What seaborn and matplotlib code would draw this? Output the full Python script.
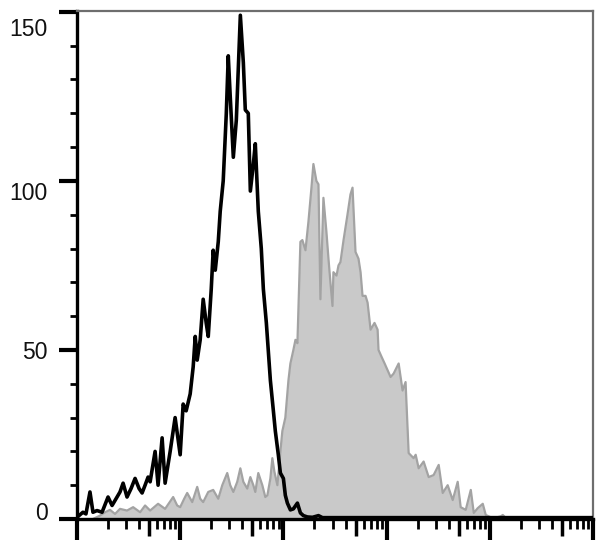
import matplotlib
matplotlib.use("Agg")
import matplotlib.pyplot as plt
import matplotlib.transforms as mtransforms
from matplotlib.ticker import FixedLocator, NullFormatter
import numpy as np
import pandas as pd
import seaborn as sns

# ---- data: log10 fluorescence position vs. event count ----
black_log10 = [0.000, 0.058, 0.087, 0.126, 0.155, 0.194, 0.243, 0.301, 0.340, 0.369,
               0.417, 0.447, 0.485, 0.524, 0.563, 0.602, 0.631, 0.660, 0.689, 0.709,
               0.757, 0.786, 0.825, 0.854, 0.903, 0.951, 1.000, 1.029, 1.058, 1.097,
               1.126, 1.146, 1.165, 1.194, 1.223, 1.252, 1.272, 1.301, 1.320, 1.340,
               1.369, 1.388, 1.417, 1.447, 1.466, 1.485, 1.515, 1.544, 1.583, 1.612,
               1.631, 1.660, 1.680, 1.709, 1.728, 1.757, 1.786, 1.806, 1.835, 1.874,
               1.903, 1.922, 1.951, 1.971, 2.000, 2.019, 2.039, 2.068, 2.097, 2.136,
               2.165, 2.194, 2.233, 2.282, 2.340, 2.379, 2.456, 3.136, 4.107, 5.000]
black_count = [0.5, 2, 1.5, 8, 2, 2.5, 2, 6.5, 4, 5.5,
               8, 10.6, 6.5, 9, 12, 9, 7.7, 10, 12.4, 11,
               20, 10, 24, 10.6, 20, 30, 19, 34, 32, 37,
               45, 54, 47, 53, 65, 58, 54, 68, 79.5, 73.6,
               82, 91, 100, 120, 137, 125, 107, 118, 149, 135,
               121, 120, 97, 105, 111, 91, 80, 68, 58, 41,
               32, 26, 19, 13.6, 12, 7, 4.7, 2.7, 3, 4.7,
               1.8, 1, 0.6, 0.5, 1, 0.4, 0.4, 0.4, 0.4, 0.4]

gray_log10 = [0.155, 0.223, 0.272, 0.320, 0.369, 0.417, 0.485, 0.544, 0.612, 0.660,
              0.709, 0.786, 0.854, 0.932, 0.971, 1.000, 1.039, 1.068, 1.117, 1.165,
              1.194, 1.223, 1.272, 1.320, 1.369, 1.408, 1.456, 1.485, 1.515, 1.553,
              1.583, 1.612, 1.650, 1.680, 1.709, 1.728, 1.757, 1.796, 1.825, 1.845,
              1.874, 1.893, 1.913, 1.942, 1.971, 1.990, 2.019, 2.049, 2.068, 2.097,
              2.117, 2.136, 2.165, 2.184, 2.214, 2.243, 2.272, 2.291, 2.320, 2.340,
              2.359, 2.388, 2.417, 2.437, 2.456, 2.476, 2.485, 2.515, 2.534, 2.553,
              2.583, 2.621, 2.650, 2.670, 2.699, 2.728, 2.748, 2.767, 2.796, 2.816,
              2.845, 2.883, 2.913, 2.922, 2.951, 2.981, 3.010, 3.039, 3.068, 3.117,
              3.155, 3.184, 3.214, 3.262, 3.282, 3.311, 3.359, 3.408, 3.456, 3.505,
              3.544, 3.592, 3.641, 3.689, 3.718, 3.767, 3.816, 3.845, 3.883, 3.932,
              3.961, 4.010, 4.058, 4.107, 4.126, 4.155, 4.204]
gray_count = [0, 1, 2, 2.7, 1.5, 3, 2.5, 3.5, 2, 4,
              2.5, 4.5, 3, 6.5, 4, 3.5, 6, 7.7, 5, 9.5,
              6, 5, 8, 8.6, 6, 10, 13.6, 10, 8, 11,
              15, 11, 9, 12.4, 10, 8, 13.6, 10, 6.5, 7,
              12, 18, 14, 10, 20, 26, 30, 41, 46, 50,
              53, 52, 82, 82.5, 79.5, 88, 98, 105, 100, 99,
              65, 95, 85, 77, 70, 63, 73, 72, 75, 76,
              82.5, 90, 96, 98, 79, 77, 73, 66, 66, 64,
              56, 58, 56, 50, 48, 46, 44, 42, 43, 46,
              38, 40.5, 19.5, 18, 19, 15, 17, 12.4, 13, 16,
              7.7, 10, 5.6, 11, 3.5, 2.7, 8.6, 1.8, 3.2, 4.5,
              1.2, 0.5, 0.4, 0.8, 1.2, 0.3, 0]

y_ticks = [0, 50, 100, 150]
y_labels = ["0", "50", "100", "150"]
# per-label vertical nudges in pixels (positive = up), as in the reference
y_label_shift_px = [8, 0, -10, -15]

# ---- style ----
sns.set_theme(style="white")
plt.rcParams["font.family"] = ["Liberation Sans", "DejaVu Sans"]

fig = plt.figure(figsize=(6.08, 5.45), dpi=100)
ax = fig.add_axes([0.1266, 0.0477, 0.8487, 0.9330])

black_df = pd.DataFrame({"x": np.power(10.0, black_log10), "y": black_count})
gray_df = pd.DataFrame({"x": np.power(10.0, gray_log10), "y": gray_count})

ax.fill_between(gray_df["x"], 0, gray_df["y"], color="#c9c9c9", linewidth=0, zorder=1)
sns.lineplot(data=gray_df, x="x", y="y", ax=ax, color="#a3a3a3", linewidth=1.6,
             sort=False, estimator=None, zorder=2)
sns.lineplot(data=black_df, x="x", y="y", ax=ax, color="black", linewidth=2.6,
             sort=False, estimator=None, zorder=3)

ax.set_xscale("log")
ax.set_xlim(1, 1e5)
ax.set_ylim(0, 150.4)
ax.set_xlabel("")
ax.set_ylabel("")

# spines
for side in ["left", "bottom"]:
    ax.spines[side].set_color("black")
    ax.spines[side].set_linewidth(2.4)
for side in ["top", "right"]:
    ax.spines[side].set_color("#6e6e6e")
    ax.spines[side].set_linewidth(1.6)

# y ticks
ax.yaxis.set_major_locator(FixedLocator(y_ticks))
ax.set_yticklabels(y_labels)
ax.yaxis.set_minor_locator(FixedLocator([v for v in range(0, 151, 10) if v % 50]))
ax.tick_params(axis="y", which="major", direction="out", length=13, width=3,
               color="black", labelsize=16.5, labelcolor="#111111", pad=8,
               left=True, right=False)
ax.tick_params(axis="y", which="minor", direction="out", length=5, width=2,
               color="black", left=True, right=False)
for lab, dy in zip(ax.get_yticklabels(), y_label_shift_px):
    lab.set_transform(lab.get_transform() +
                      mtransforms.ScaledTranslation(0, dy / 100.0, fig.dpi_scale_trans))

# x ticks: decades long, 2-4 & 6-9 short, 5 medium
decades = [1, 10, 100, 1000, 10000, 100000]
minor_short = [k * d for d in decades[:-1] for k in (2, 3, 4, 6, 7, 8, 9)]
fives = [5 * d for d in decades[:-1]]
ax.xaxis.set_major_locator(FixedLocator(decades))
ax.xaxis.set_minor_locator(FixedLocator(minor_short))
ax.xaxis.set_major_formatter(NullFormatter())
ax.xaxis.set_minor_formatter(NullFormatter())
ax.tick_params(axis="x", which="major", direction="out", length=15, width=3,
               color="black", bottom=True, top=False)
ax.tick_params(axis="x", which="minor", direction="out", length=7, width=2,
               color="black", bottom=True, top=False)

sec = ax.secondary_xaxis("bottom", functions=(lambda v: v, lambda v: v))
sec.set_xscale("log")
sec.xaxis.set_major_locator(FixedLocator(fives))
sec.xaxis.set_minor_locator(FixedLocator([]))
sec.xaxis.set_major_formatter(NullFormatter())
sec.spines["bottom"].set_visible(False)
sec.tick_params(axis="x", which="major", direction="out", length=12, width=2.5,
                color="black")

ax.grid(False)
fig.savefig("out.png", dpi=100, facecolor="white")
